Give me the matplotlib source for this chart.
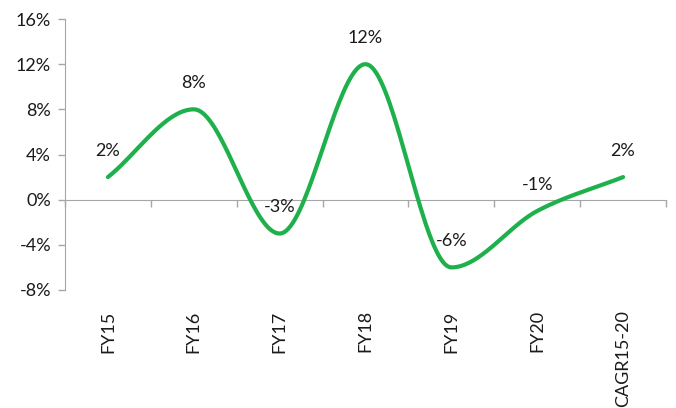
import numpy as np
import matplotlib
matplotlib.use('Agg')
import matplotlib.pyplot as plt
import matplotlib.transforms as mtransforms

categories = ['FY15', 'FY16', 'FY17', 'FY18', 'FY19', 'FY20', 'CAGR15-20']
growth = [2, 8, -3, 12, -6, -1, 2]
y_ticks = [-8, -4, 0, 4, 8, 12, 16]

plt.rcParams['font.family'] = ['Lato', 'DejaVu Sans']
green = '#1db04b'
grey = '#a6a6a6'
ink = '#1a1a1a'


def smooth(xs, ys, steps=40):
    # piecewise cubic bezier; flat tangent at turning points, averaged slope elsewhere
    xs = np.asarray(xs, float)
    ys = np.asarray(ys, float)
    n = len(ys)
    m = np.zeros(n)
    for i in range(n):
        if i == 0:
            m[i] = ys[1] - ys[0]
        elif i == n - 1:
            m[i] = ys[-1] - ys[-2]
        else:
            d0, d1 = ys[i] - ys[i - 1], ys[i + 1] - ys[i]
            m[i] = 0 if d0 * d1 <= 0 else (d0 + d1) / 2
    t = np.linspace(0, 1, steps)[:, None]
    out = []
    for i in range(n - 1):
        h = xs[i + 1] - xs[i]
        p0 = np.array([xs[i], ys[i]])
        p3 = np.array([xs[i + 1], ys[i + 1]])
        c1 = p0 + np.array([h / 3, m[i] * h / 3])
        c2 = p3 - np.array([h / 3, m[i + 1] * h / 3])
        b = (1 - t) ** 3 * p0 + 3 * (1 - t) ** 2 * t * c1 + 3 * (1 - t) * t ** 2 * c2 + t ** 3 * p3
        out.append(b)
    out = np.vstack(out)
    return out[:, 0], out[:, 1]


fig = plt.figure(figsize=(6.76, 4.08), dpi=100)
ax = fig.add_axes([65 / 676, 1 - 290 / 408, 601 / 676, 271 / 408])

x = np.arange(len(categories))
sx, sy = smooth(x, growth)
ax.plot(sx, sy, color=green, lw=3, solid_capstyle='round', zorder=3)

for xi, v in zip(x, growth):
    ax.annotate(f'{v}%', (xi, v), xytext=(0, 19), textcoords='offset points',
                ha='center', va='center', fontsize=13, color=ink)

ax.set_xlim(-0.5, len(categories) - 0.5)
ax.set_ylim(-8, 16)
ax.set_yticks(y_ticks)
ax.set_yticklabels([f'{t}%' for t in y_ticks], fontsize=13, color=ink)

for s in ['top', 'right']:
    ax.spines[s].set_visible(False)
ax.spines['left'].set_color(grey)
ax.spines['bottom'].set_color(grey)
ax.spines['bottom'].set_position(('data', 0))
ax.tick_params(axis='y', length=5, color=grey, width=1, pad=5)

# ticks on the zero line sit between categories
ax.set_xticks(np.arange(len(categories) + 1) - 0.5)
ax.set_xticklabels([])
ax.tick_params(axis='x', length=5, color=grey, width=1, direction='out')

trans = mtransforms.blended_transform_factory(ax.transData, ax.transAxes)
for xi, name in zip(x, categories):
    ax.text(xi, -0.075, name, transform=trans, rotation=90, ha='center', va='top',
            fontsize=13, color=ink)

fig.savefig('out.png', dpi=100)
